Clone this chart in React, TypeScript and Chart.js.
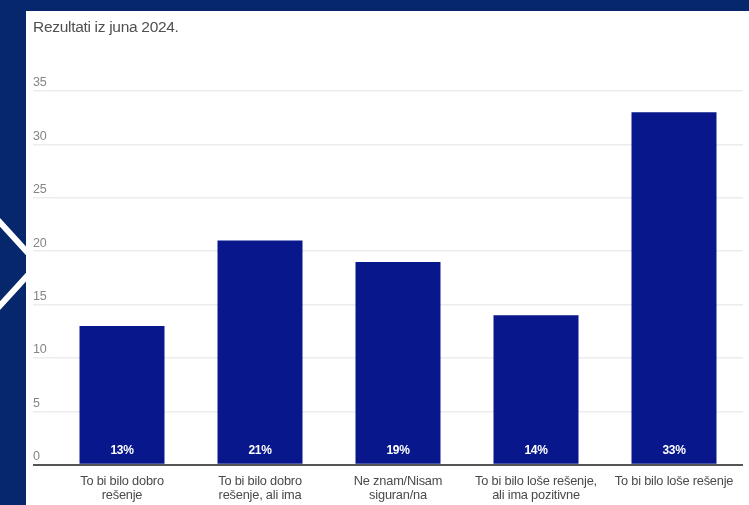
import React, { useEffect, useRef } from 'react';
import { Chart, registerables } from 'chart.js';

Chart.register(...registerables);

const titleText = 'Rezultati iz juna 2024.';
const categories: string[][] = [
  ['To bi bilo dobro', 'rešenje'],
  ['To bi bilo dobro', 'rešenje, ali ima'],
  ['Ne znam/Nisam', 'siguran/na'],
  ['To bi bilo loše rešenje,', 'ali ima pozitivne'],
  ['To bi bilo loše rešenje'],
];
const values: number[] = [13, 21, 19, 14, 33];
const yMax = 35;
const yStep = 5;

const FRAME = '#06276c';
const BAR = '#08178b';
const FONT = '"Liberation Sans", Arial, sans-serif';

const framePlugin = {
  id: 'frame',
  beforeDraw(chart: any) {
    const ctx = chart.ctx as CanvasRenderingContext2D;
    const w = chart.width;
    const h = chart.height;
    ctx.save();
    ctx.fillStyle = FRAME;
    ctx.fillRect(0, 0, w, h);
    // chevron
    ctx.strokeStyle = '#ffffff';
    ctx.lineWidth = 6;
    ctx.beginPath();
    ctx.moveTo(-4, 218);
    ctx.lineTo(38, 264);
    ctx.lineTo(-4, 310);
    ctx.stroke();
    // panel
    ctx.fillStyle = '#ffffff';
    ctx.fillRect(26, 11, w - 26, h - 11);
    // title
    (ctx as any).letterSpacing = '-0.3px';
    ctx.fillStyle = '#505050';
    ctx.font = `15.5px ${FONT}`;
    ctx.textAlign = 'left';
    ctx.textBaseline = 'middle';
    ctx.fillText(titleText, 33, 28);
    ctx.restore();
    (ctx as any).letterSpacing = '-0.2px';
  },
  afterDatasetsDraw(chart: any) {
    const ctx = chart.ctx as CanvasRenderingContext2D;
    const meta = chart.getDatasetMeta(0);
    ctx.save();
    (ctx as any).letterSpacing = '-0.4px';
    ctx.fillStyle = '#ffffff';
    ctx.font = `bold 12px ${FONT}`;
    ctx.textAlign = 'center';
    ctx.textBaseline = 'middle';
    meta.data.forEach((bar: any, i: number) => {
      ctx.fillText(values[i] + '%', bar.x, chart.chartArea.bottom - 14);
    });
    ctx.restore();
  },
};

export default function App() {
  const ref = useRef<HTMLCanvasElement | null>(null);
  useEffect(() => {
    document.body.style.margin = '0';
    const canvas = ref.current!;
    const chart = new Chart(canvas, {
      type: 'bar',
      data: {
        labels: categories,
        datasets: [
          {
            data: values,
            backgroundColor: BAR,
            barPercentage: 0.77,
            categoryPercentage: 0.8,
          },
        ],
      },
      options: {
        responsive: false,
        animation: false,
        events: [],
        layout: { padding: { left: 33, right: 6, top: 91, bottom: 0 } },
        plugins: {
          legend: { display: false },
          title: { display: false },
          tooltip: { enabled: false },
        },
        scales: {
          x: {
            grid: { display: false },
            border: { display: false },
            ticks: {
              color: '#4a4a4a',
              padding: 2,
              maxRotation: 0,
              autoSkip: false,
              font: { family: FONT, size: 12.8, lineHeight: 1.1 },
            },
          },
          y: {
            position: 'left',
            min: 0,
            max: yMax,
            border: { display: false },
            grid: {
              color: (c: any) => (c.tick && c.tick.value === 0 ? '#555555' : '#ececec'),
              tickColor: (c: any) => (c.tick && c.tick.value === 0 ? '#555555' : '#ececec'),
              lineWidth: (c: any) => (c.tick && c.tick.value === 0 ? 2 : 1.5),
              drawTicks: true,
              tickLength: 20,
            },
            ticks: {
              stepSize: yStep,
              crossAlign: 'far',
              padding: 0,
              labelOffset: -8,
              color: '#858585',
              font: { family: FONT, size: 12.5 },
            },
            afterFit: (scale: any) => {
              scale.width = 20;
            },
          },
        },
      },
      plugins: [framePlugin],
    } as any);
    return () => chart.destroy();
  }, []);
  return (
    <div style={{ position: 'fixed', left: 0, top: 0, width: 749, height: 505, overflow: 'hidden' }}>
      <canvas ref={ref} width={749} height={505} style={{ display: 'block' }} />
    </div>
  );
}
